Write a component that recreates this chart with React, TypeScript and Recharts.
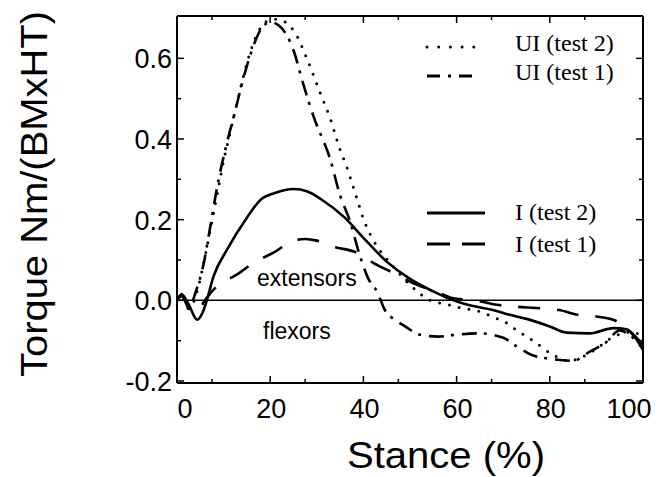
import React from 'react';
import { LineChart, Line, XAxis, YAxis, ReferenceLine, Legend } from 'recharts';

// ---- data (stance %, torque) ----
const uiTest2X = [0, 1, 2.5, 4.5, 5.5, 7, 8.9, 9.9, 11.4, 13.1, 15.3, 17.2, 19, 21, 23.2, 25.3, 28.2, 30.7, 32.9, 35, 36.4, 38.2, 40.4, 42.1, 46.4, 50.7, 54.3, 58, 61, 65, 68.6, 71, 73, 76.4, 80.7, 84, 87, 90, 93, 95.5, 98, 100];
const uiTest2Y = [0, 0.01, -0.02, 0.03, 0.08, 0.166, 0.28, 0.34, 0.415, 0.5, 0.6, 0.66, 0.69, 0.697, 0.69, 0.664, 0.59, 0.515, 0.45, 0.373, 0.332, 0.267, 0.19, 0.15, 0.084, 0.031, 0.0, -0.01, -0.019, -0.028, -0.045, -0.058, -0.075, -0.1, -0.135, -0.15, -0.14, -0.12, -0.095, -0.082, -0.078, -0.1];

const uiTest1X = [0, 1, 2.5, 4, 5.7, 7.1, 8.6, 10.7, 12.5, 14, 15.5, 18, 20, 22, 25, 27, 29.3, 32.9, 35, 37, 39, 41, 43, 44.6, 47, 49, 52, 56, 60, 65, 70, 73, 76, 80, 85, 88.6, 92, 95, 97, 100];
const uiTest1Y = [0, 0.015, -0.02, 0.02, 0.09, 0.18, 0.28, 0.39, 0.47, 0.54, 0.6, 0.672, 0.69, 0.68, 0.62, 0.54, 0.456, 0.349, 0.26, 0.2, 0.12, 0.055, 0.02, -0.024, -0.05, -0.065, -0.085, -0.09, -0.085, -0.082, -0.093, -0.115, -0.135, -0.145, -0.15, -0.127, -0.105, -0.075, -0.085, -0.12];

const iTest2X = [0, 1, 2.5, 4.3, 5.5, 6.4, 7.8, 10.7, 15, 18, 21, 25, 28, 31, 36, 40, 45, 50, 55, 58.6, 62, 67.8, 71.4, 75, 80, 83.6, 88.6, 93.6, 96.5, 98.5, 100];
const iTest2Y = [0, 0.015, -0.01, -0.048, -0.03, 0, 0.058, 0.125, 0.205, 0.25, 0.266, 0.276, 0.27, 0.25, 0.205, 0.155, 0.096, 0.053, 0.022, 0.003, -0.01, -0.024, -0.036, -0.046, -0.065, -0.08, -0.082, -0.069, -0.072, -0.095, -0.123];

const iTest1X = [0, 1, 2.5, 4, 6, 7.8, 10.7, 13, 16.4, 20.7, 25, 27.5, 30, 33.6, 38.6, 42.1, 46.4, 51.4, 55.7, 59, 64, 68.6, 72.9, 77, 82, 86, 90, 94, 97, 100];
const iTest1Y = [0, 0.01, -0.02, -0.03, 0, 0.026, 0.05, 0.065, 0.093, 0.118, 0.148, 0.152, 0.148, 0.133, 0.118, 0.093, 0.068, 0.039, 0.021, 0.006, 0, -0.011, -0.016, -0.019, -0.024, -0.036, -0.04, -0.05, -0.075, -0.11];

const seriesNames = ['UI (test 2)', 'UI (test 1)', 'I (test 2)', 'I (test 1)'];

const xMajorTicks = [0, 20, 40, 60, 80, 100];
const xMinorTicks = [7.5, 27.5, 47.5, 67.5, 87.5];
const xTickLabels = ['0', '20', '40', '60', '80', '100'];
const yMajorTicks = [-0.2, 0, 0.2, 0.4, 0.6];
const yMinorTicks = [-0.1, 0.1, 0.3, 0.5];
const yTickLabels = ['-0.2', '0.0', '0.2', '0.4', '0.6'];

const xTitle = 'Stance (%)';
const yTitle = 'Torque Nm/(BMxHT)';
const upperNote = 'extensors';
const lowerNote = 'flexors';

const toPoints = (xs: number[], ys: number[]) => xs.map((x, i) => ({ x, y: ys[i] }));

const SANS = 'Liberation Sans, Arial, sans-serif';
const SERIF = 'Liberation Serif, Times New Roman, serif';

const xTicksAll = [...xMajorTicks, ...xMinorTicks].sort((a, b) => a - b);
const yTicksAll = [...yMajorTicks, ...yMinorTicks].sort((a, b) => a - b);

const DOTTED = '0 10';
const DASHDOT = '15 7 3 8';
const DASHED = '22 17';

const BottomTick = (props: any) => {
  const { x, y, payload } = props;
  const v = payload.value;
  const mi = xMajorTicks.indexOf(v);
  const major = mi >= 0;
  const dx = v === 0 ? 8 : v === 100 ? -14 : 1;
  return (
    <g>
      <line x1={x} x2={x} y1={y} y2={y - (major ? 7 : 4)} stroke="#000" strokeWidth={1.5} />
      {major && (
        <text x={x + dx} y={y + 35} textAnchor="middle" fontSize={27} fontFamily={SANS} fill="#000">
          {xTickLabels[mi]}
        </text>
      )}
    </g>
  );
};

const TopTick = (props: any) => {
  const { x, y, payload } = props;
  const major = xMajorTicks.indexOf(payload.value) >= 0;
  return <line x1={x} x2={x} y1={y} y2={y + (major ? 7 : 4)} stroke="#000" strokeWidth={1.5} />;
};

const LeftTick = (props: any) => {
  const { x, y, payload } = props;
  const mi = yMajorTicks.indexOf(payload.value);
  const major = mi >= 0;
  return (
    <g>
      <line x1={x} x2={x + (major ? 7 : 4)} y1={y} y2={y} stroke="#000" strokeWidth={1.5} />
      {major && (
        <text x={x - 5} y={y + 10} textAnchor="end" fontSize={27} fontFamily={SANS} fill="#000">
          {yTickLabels[mi]}
        </text>
      )}
    </g>
  );
};

const RightTick = (props: any) => {
  const { x, y, payload } = props;
  const major = yMajorTicks.indexOf(payload.value) >= 0;
  return <line x1={x} x2={x - (major ? 7 : 4)} y1={y} y2={y} stroke="#000" strokeWidth={1.5} />;
};

const Overlay = () => (
  <svg width={670} height={477} style={{ position: 'absolute', left: 0, top: 0, overflow: 'visible' }}>
    {/* legend */}
    <line x1={427} x2={477} y1={47} y2={47} stroke="#000" strokeWidth={3} strokeDasharray="0 11.7" strokeLinecap="round" />
    <text x={515} y={51} fontSize={24} fontFamily={SERIF} fill="#000">{seriesNames[0]}</text>
    <line x1={427} x2={477} y1={76} y2={76} stroke="#000" strokeWidth={3} strokeDasharray="13 8 3 8" />
    <text x={515} y={80} fontSize={24} fontFamily={SERIF} fill="#000">{seriesNames[1]}</text>
    <line x1={427} x2={485} y1={213} y2={213} stroke="#000" strokeWidth={3} />
    <text x={515} y={220} fontSize={24} fontFamily={SERIF} fill="#000">{seriesNames[2]}</text>
    <line x1={427} x2={485} y1={244} y2={244} stroke="#000" strokeWidth={3} strokeDasharray="23 12" />
    <text x={515} y={252} fontSize={24} fontFamily={SERIF} fill="#000">{seriesNames[3]}</text>
    {/* annotations */}
    <text x={257} y={286} fontSize={23} fontFamily={SANS} fill="#000">{upperNote}</text>
    <text x={263} y={339} fontSize={23} fontFamily={SANS} fill="#000">{lowerNote}</text>
    {/* axis titles */}
    <text x={446} y={468} textAnchor="middle" fontSize={36} fontFamily={SANS} fill="#000" textLength={198} lengthAdjust="spacingAndGlyphs">
      {xTitle}
    </text>
    <text x={47} y={194} transform="rotate(-90 47 194)" textAnchor="middle" fontSize={36} fontFamily={SANS} fill="#000" textLength={366} lengthAdjust="spacingAndGlyphs">
      {yTitle}
    </text>
  </svg>
);

export default function App() {
  return (
    <div style={{ position: 'absolute', left: 0, top: 0, width: 670, height: 477, background: '#fff' }}>
      <LineChart width={670} height={477} margin={{ top: 15, right: 26, bottom: 64, left: 117 }}>
        <XAxis
          dataKey="x"
          type="number"
          domain={[0, 100]}
          allowDataOverflow
          ticks={xTicksAll}
          interval={0}
          height={30}
          tickSize={0}
          tickMargin={0}
          tickLine={false}
          axisLine={{ stroke: '#000', strokeWidth: 2 }}
          tick={<BottomTick />}
        />
        <XAxis
          xAxisId="top"
          orientation="top"
          dataKey="x"
          type="number"
          domain={[0, 100]}
          allowDataOverflow
          ticks={xTicksAll}
          interval={0}
          height={1}
          tickSize={0}
          tickMargin={0}
          tickLine={false}
          axisLine={{ stroke: '#000', strokeWidth: 2 }}
          tick={<TopTick />}
        />
        <YAxis
          type="number"
          domain={[-0.205, 0.705]}
          allowDataOverflow
          ticks={yTicksAll}
          interval={0}
          width={60}
          tickSize={0}
          tickMargin={0}
          tickLine={false}
          axisLine={{ stroke: '#000', strokeWidth: 2 }}
          tick={<LeftTick />}
        />
        <YAxis
          yAxisId="right"
          orientation="right"
          type="number"
          domain={[-0.205, 0.705]}
          allowDataOverflow
          ticks={yTicksAll}
          interval={0}
          width={1}
          tickSize={0}
          tickMargin={0}
          tickLine={false}
          axisLine={{ stroke: '#000', strokeWidth: 2 }}
          tick={<RightTick />}
        />
        <ReferenceLine y={0} stroke="#000" strokeWidth={1.5} />
        <Line data={toPoints(uiTest2X, uiTest2Y)} dataKey="y" name={seriesNames[0]} type="monotone" stroke="#000" strokeWidth={3} strokeDasharray={DOTTED} strokeLinecap="round" dot={false} isAnimationActive={false} />
        <Line data={toPoints(uiTest1X, uiTest1Y)} dataKey="y" name={seriesNames[1]} type="monotone" stroke="#000" strokeWidth={2.6} strokeDasharray={DASHDOT} dot={false} isAnimationActive={false} />
        <Line data={toPoints(iTest2X, iTest2Y)} dataKey="y" name={seriesNames[2]} type="monotone" stroke="#000" strokeWidth={2.6} dot={false} isAnimationActive={false} />
        <Line data={toPoints(iTest1X, iTest1Y)} dataKey="y" name={seriesNames[3]} type="monotone" stroke="#000" strokeWidth={2.6} strokeDasharray={DASHED} dot={false} isAnimationActive={false} />
        <Legend
          layout="vertical"
          align="center"
          verticalAlign="middle"
          wrapperStyle={{ left: 0, top: 0, width: 670, height: 477, pointerEvents: 'none' }}
          content={() => <Overlay />}
        />
      </LineChart>
    </div>
  );
}
